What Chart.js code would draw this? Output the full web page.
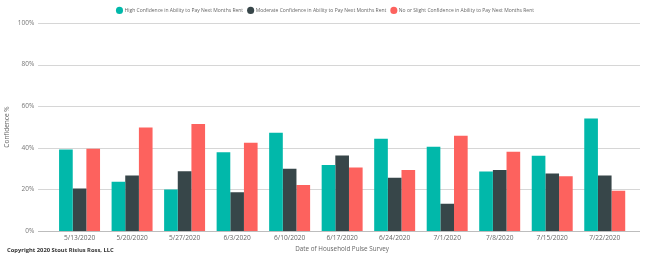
<!DOCTYPE html>
<html><head><meta charset="utf-8">
<script src="https://cdn.jsdelivr.net/npm/chart.js@4/dist/chart.umd.min.js"></script>
<style>html,body{margin:0;padding:0;background:#fff;}#wrap{width:670px;height:254px;position:relative;}</style>
</head><body><div id="wrap"><canvas id="c" width="670" height="254"></canvas></div>
<script>
const categories = ['5/13/2020','5/20/2020','5/27/2020','6/3/2020','6/10/2020','6/17/2020','6/24/2020','7/1/2020','7/8/2020','7/15/2020','7/22/2020'];
const highConfidence = [39.2, 23.7, 20.0, 37.9, 47.2, 31.8, 44.3, 40.5, 28.6, 36.2, 54.1];
const moderateConfidence = [20.5, 26.7, 28.8, 18.7, 29.9, 36.3, 25.6, 13.1, 29.4, 27.7, 26.7];
const slightConfidence = [39.5, 49.7, 51.5, 42.4, 22.2, 30.6, 29.4, 45.8, 38.1, 26.4, 19.4];
const seriesNames = ['High Confidence in Ability to Pay Next Months Rent','Moderate Confidence in Ability to Pay Next Months Rent','No or Slight Confidence in Ability to Pay Next Months Rent'];
const yTicks = [0, 20, 40, 60, 80, 100];
const copyrightText = 'Copyright 2020 Stout Risius Ross, LLC';

const FONT = "'Segoe UI', 'Open Sans', 'Noto Sans', sans-serif";

const extras = {
  id: 'extras',
  afterLayout(chart) {
    if (chart.legend) { chart.legend.left += 10; chart.legend.right += 10; }
  },
  beforeDatasetsDraw(chart) {
    const ctx = chart.ctx, y = chart.scales.y;
    ctx.save();
    yTicks.forEach(v => {
      const py = Math.round(y.getPixelForValue(v)) + 0.5;
      ctx.strokeStyle = v === 0 ? '#bdbdbd' : '#d6d6d6';
      ctx.lineWidth = 1;
      ctx.beginPath(); ctx.moveTo(38, py); ctx.lineTo(640, py); ctx.stroke();
    });
    ctx.restore();
  },
  afterDraw(chart) {
    const ctx = chart.ctx;
    ctx.save();
    ctx.font = "bold 5.8px " + FONT;
    ctx.fillStyle = '#333';
    ctx.textBaseline = 'middle';
    ctx.textAlign = 'left';
    ctx.fillText(copyrightText, 7, 250);
    ctx.restore();
  }
};

const barOpts = {categoryPercentage: 0.78, barPercentage: 1.0, borderWidth: 0};

new Chart(document.getElementById('c'), {
  type: 'bar',
  data: {
    labels: categories,
    datasets: [
      Object.assign({label: seriesNames[0], data: highConfidence, backgroundColor: '#01B8AA'}, barOpts),
      Object.assign({label: seriesNames[1], data: moderateConfidence, backgroundColor: '#374649'}, barOpts),
      Object.assign({label: seriesNames[2], data: slightConfidence, backgroundColor: '#FD625E'}, barOpts)
    ]
  },
  options: {
    responsive: false,
    animation: false,
    devicePixelRatio: 1,
    layout: {padding: {left: 0, right: 39, top: 2, bottom: 0}},
    plugins: {
      legend: {
        position: 'top',
        labels: {
          usePointStyle: true, pointStyle: 'circle', boxWidth: 5, boxHeight: 5,
          padding: 5, color: '#666',
          font: {family: FONT, size: 5}
        }
      },
      tooltip: {enabled: false}
    },
    scales: {
      x: {
        grid: {display: false, drawTicks: false, tickLength: 0},
        border: {display: false},
        ticks: {color: '#666', font: {family: FONT, size: 6.6}, maxRotation: 0, autoSkip: false, padding: 3},
        title: {display: true, text: 'Date of Household Pulse Survey', color: '#666', font: {family: FONT, size: 6.3}, padding: {top: 0, bottom: 0}},
        afterFit(s) { s.height = 22.3; }
      },
      y: {
        min: 0, max: 100,
        grid: {display: false, drawTicks: false, tickLength: 0},
        border: {display: false},
        afterBuildTicks(s) { s.ticks = yTicks.map(v => ({value: v})); },
        ticks: {color: '#777', font: {family: FONT, size: 6.5}, padding: 19, callback: v => v + '%'},
        title: {display: true, text: 'Confidence %', color: '#666', font: {family: FONT, size: 6.5}, padding: {top: 3, bottom: 0}},
        afterFit(s) { s.width = 53.3; }
      }
    }
  },
  plugins: [extras]
});
</script></body></html>
